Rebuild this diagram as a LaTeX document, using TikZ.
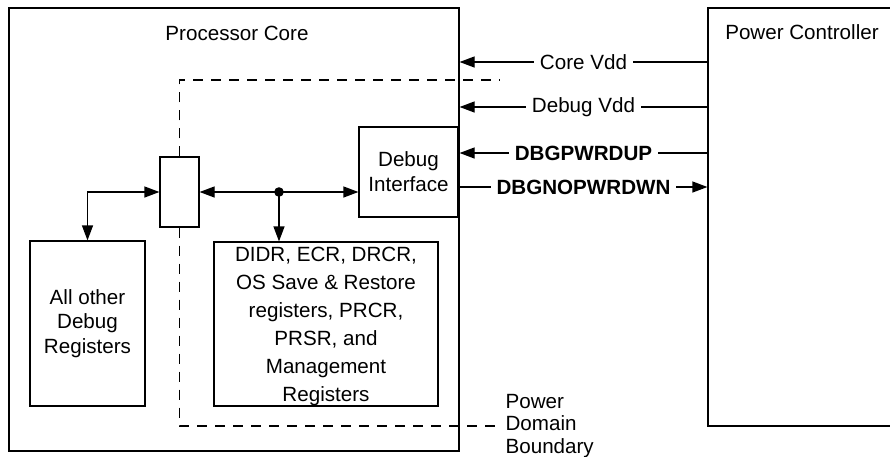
\documentclass[tikz,border=0pt]{standalone}
\usepackage{fontspec}
\setmainfont{Liberation Sans}
\usetikzlibrary{arrows.meta}

\begin{document}
\begin{tikzpicture}[x=0.5pt, y=-0.5pt, line width=0.6pt,
    >={Triangle[length=7.5pt,width=5.5pt]},
    font=\fontsize{10.3}{12.4}\selectfont,
    blk/.style={draw, align=center, inner sep=0pt},
    lbl/.style={fill=white, inner xsep=3pt, inner ysep=1pt}]
  \useasboundingbox (0,0) rectangle (890,456);

  % Outer blocks
  \node[blk, minimum width=225pt, minimum height=221.5pt] (core) at (234,229.5) {};
  \node[blk, minimum width=93pt, minimum height=209pt] (pwr) at (801,217) {};
  \node (coretitle) at (237,33) {Processor Core};
  \node[anchor=west] (pwrtitle) at (718,32) {Power Controller};

  % Inner blocks
  \node[blk, minimum width=19.5pt, minimum height=35pt] (mux) at (179.5,192) {};
  \node[blk, minimum width=49.5pt, minimum height=45pt] (dbgif) at (408.5,172) {Debug\\Interface};
  \node[blk, minimum width=57.5pt, minimum height=82.5pt] (other) at (87.5,323.5) {All other\\Debug\\Registers};
  \node[blk, minimum width=112pt, minimum height=82pt,
        font=\fontsize{10.3}{14}\selectfont] (regs) at (326,324)
        {\rule{0pt}{9.5pt}DIDR, ECR, DRCR,\\OS Save \& Restore\\registers, PRCR,\\PRSR, and\\Management\\Registers};

  % Connections
  \coordinate (tap) at (279,192);
  \draw[<->] (mux.west) -| (other.north);
  \draw[<->] (mux.east) -- (mux.east -| dbgif.west);
  \draw[->] (tap) -- (tap |- regs.north);
  \fill (tap) circle (2.4pt);

  % Power domain boundary
  \node[anchor=west, align=left, inner sep=1pt,
        font=\fontsize{10.3}{11.2}\selectfont] (bdry) at (503,426) {Power\\Domain\\Boundary};
  \draw[dash pattern=on 5pt off 4pt] (mux.north) |- (500,80);
  \draw[dash pattern=on 5pt off 4pt] (mux.south) |- (bdry.west);

  % Power signals
  \coordinate (s1) at (0,62);
  \coordinate (s2) at (0,107);
  \coordinate (s3) at (0,153);
  \coordinate (s4) at (0,187);
  \draw[<-] (core.east |- s1) -- node[lbl] {Core Vdd} (pwr.west |- s1);
  \draw[<-] (core.east |- s2) -- node[lbl] {Debug Vdd} (pwr.west |- s2);
  \draw[<-] (core.east |- s3) -- node[lbl] {\textbf{DBGPWRDUP}} (pwr.west |- s3);
  \draw[->] (core.east |- s4) -- node[lbl] {\textbf{DBGNOPWRDWN}} (pwr.west |- s4);
\end{tikzpicture}
\end{document}
